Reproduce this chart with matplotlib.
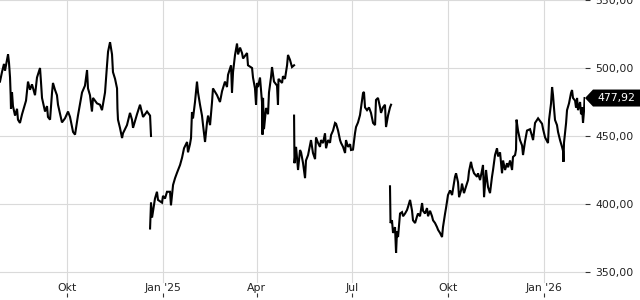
import matplotlib
matplotlib.use("Agg")
import matplotlib.pyplot as plt
from matplotlib.patches import Polygon
import numpy as np
import pandas as pd

# ---------------- data (days since BASE, price) ----------------
BASE = pd.Timestamp("2024-07-29 04:00")
X_END_DAYS = 559.8

seg1_days = [0, 1.9, 3.8, 4.8, 6.7, 7.7, 8.6, 9.6, 10.2, 10.5,
             11.5, 12.4, 14.4, 16.3, 17.2, 19.1, 21.1, 23.0, 24.9, 26.8,
             28.7, 30.6, 33.5, 35.4, 38.3, 39.2, 40.2, 43.1, 45.0, 45.9,
             47.9, 49.8, 50.7, 52.6, 54.5, 55.5, 59.3, 62.2, 65.1, 67.0,
             69.9, 71.8, 74.6, 78.5, 81.3, 83.3, 84.2, 86.1, 88.0, 89.0,
             92.8, 95.7, 97.6, 100.5, 102.4, 103.4, 105.3, 107.2, 108.1, 110.1,
             112.0, 112.4, 112.9, 114.8, 116.8, 117.7, 121.5, 124.4, 126.3, 127.3,
             131.1, 134.0, 136.9, 140.7, 143.6, 144.5]
seg1_vals = [490, 497, 503, 498, 506, 510, 504, 493, 480, 470,
             482, 472, 465, 470, 462, 459.6, 466, 471, 476, 490,
             484, 488, 480, 493, 500, 490, 478, 468, 472, 464,
             462, 482, 489, 484, 480, 473, 460, 463, 468, 464,
             453, 451, 465, 482, 487, 498.5, 485, 480, 468, 478,
             474, 473, 469, 482, 502, 512, 519, 510, 497, 492,
             485, 470, 462, 456, 448.5, 452, 458, 467, 462, 456,
             466, 473, 464, 468, 465, 450]

seg2_days = [143.6, 144.5, 145.5, 148.3, 150.2, 151.2, 155.0, 156.0, 157.9, 159.8,
             162.7, 163.6, 165.6, 167.5, 169.4, 172.3, 174.2, 176.1, 179.0, 179.9,
             181.8, 182.8, 183.7, 184.7, 186.6, 188.5, 189.5, 191.4, 193.3, 194.3,
             196.2, 198.1, 199.1, 201.0, 202.9, 203.8, 207.7, 210.5, 212.5, 215.3,
             217.2, 218.2, 221.1, 222.0, 223.0, 224.9, 226.8, 227.8, 229.7, 231.6,
             232.6, 236.4, 237.3, 241.2, 242.1, 244.0, 245.0, 245.9, 246.9, 248.8,
             250.7, 251.2, 251.7, 252.6, 254.6, 256.5, 257.4, 259.3, 260.3, 262.2,
             265.1, 266.0, 266.5, 269.9, 270.8, 272.7, 274.7, 275.6, 277.5, 279.4,
             281.4]
seg2_vals = [382, 401, 390, 404, 409, 403, 401, 406, 404, 409,
             409, 399, 414, 419, 423, 428.7, 434, 441, 445.6, 438,
             444, 448.5, 467.6, 463, 475, 490, 482, 473, 465, 458,
             445.6, 460, 465, 458, 475, 485, 480, 475, 483, 490,
             486, 495, 502, 482, 497, 509.6, 518, 510, 515, 511,
             507, 511, 502, 500, 493, 485, 473, 489, 486, 493,
             475, 451, 478, 455, 470.6, 466, 482, 493, 500.7, 490,
             487, 473, 492, 489, 494, 492, 502, 509.6, 506, 500.7,
             502]

seg3_days = [281.4, 281.8, 283.3, 285.2, 287.1, 288.1, 290.0, 291.9, 292.8, 294.8,
             297.6, 299.5, 301.5, 302.4, 304.3, 306.2, 307.2, 309.1, 311.0, 312.0,
             313.9, 315.8, 316.8, 318.7, 320.6, 321.6, 323.5, 325.4, 326.3, 328.3,
             330.2, 331.1, 333.0, 335.0, 335.9, 337.8, 339.7, 340.7, 342.6, 344.5,
             345.5, 347.4, 348.3, 349.3, 351.2, 353.1, 355.0, 357.0, 358.9, 359.8,
             361.7, 363.7, 364.6, 366.5, 368.4, 369.4, 371.3, 373.2, 374.2]
seg3_vals = [465, 430, 442, 425, 439.7, 438, 430, 419, 432, 436,
             447, 437.5, 433, 449, 445, 442, 447, 444.8, 452, 441,
             447, 445, 450.7, 454, 459.6, 459, 454, 447, 445, 442,
             437.5, 447, 442, 444, 439.7, 440, 452, 456.6, 460, 465.4,
             471, 481.6, 482.4, 471, 469, 471, 467, 459.6, 458, 476.5,
             478, 471, 467, 471, 473, 456.6, 465, 471, 473]

seg4_days = [373.2, 373.7, 375.1, 376.1, 378.0, 379.0, 379.9, 380.9, 382.8, 384.7,
             385.7, 387.6, 389.5, 390.5, 392.4, 394.3, 395.2, 397.2, 399.1, 400.0,
             401.9, 403.9, 404.8, 406.7, 408.6, 409.6, 411.5, 413.4, 414.4, 416.3,
             418.2, 419.2, 421.1, 423.0, 423.9, 425.9, 426.8, 428.7, 430.7, 432.6,
             433.5, 435.4, 436.4, 438.3, 439.3, 441.2, 442.1, 444.0, 446.0, 447.9,
             448.8, 450.7, 451.7, 453.6, 456.5, 457.4, 459.4, 461.3, 462.2, 463.2,
             465.1, 466.1, 467.0, 468.9, 470.8, 471.8, 473.7, 475.6, 476.6, 478.5,
             480.4, 481.4, 483.3, 485.2, 486.2, 488.1, 490.0, 490.9, 492.9, 493.8,
             494.3, 494.8, 495.7, 497.6, 499.6, 500.5, 502.4, 504.3, 507.2, 509.1,
             510.1, 512.0, 514.9, 516.8, 518.7, 519.7, 521.6, 524.4, 525.4, 527.3,
             528.3, 529.2, 530.2, 531.1, 533.0, 534.0, 535.9, 537.8, 538.8, 539.2,
             539.7, 541.7, 542.6, 544.5, 546.4, 547.4, 548.3, 550.3, 551.2, 552.2,
             553.1, 555.1, 556.0, 557.0, 557.9, 558.9, 559.4]
seg4_vals = [413, 386, 388, 378.7, 383, 364, 380, 375.7, 393, 394,
             391, 393, 395.6, 398, 403, 395, 388, 386, 391, 393,
             391, 400.7, 395, 393, 397, 391, 395, 391, 388, 386,
             383, 381, 378.7, 375.7, 383, 393, 397, 406.6, 410, 406.6,
             411, 420, 422.6, 416, 405, 410, 415, 408, 413, 417.6,
             424, 431, 427, 422.6, 420, 422.6, 417.6, 425, 428.7, 405,
             425, 418, 412.5, 408, 420, 425, 436, 441, 435, 438,
             422.6, 432, 425, 430, 427, 432, 425, 434.6, 436, 440,
             462, 459, 454, 447, 443, 436, 446, 454, 455, 450,
             447, 459.6, 463, 461, 459, 455, 449, 444.8, 461.8, 474,
             486, 480, 470, 461.8, 458, 453, 447, 442, 439, 431,
             445, 459.6, 469, 474, 481.6, 483.8, 478, 476, 471, 478,
             469, 475, 466, 471, 459.6, 469, 477.92]

last_value = 477.92
y_ticks = [350, 400, 450, 500, 550]
x_tick_dates = ["2024-10-01", "2025-01-01", "2025-04-01",
                "2025-07-01", "2025-10-01", "2026-01-01"]
x_tick_labels = ["Okt", "Jan '25", "Apr", "Jul", "Okt", "Jan '26"]

segments = [(seg1_days, seg1_vals), (seg2_days, seg2_vals),
            (seg3_days, seg3_vals), (seg4_days, seg4_vals)]

# ---------------- figure ----------------
W, H, DPI = 640, 300, 100
fig = plt.figure(figsize=(W / DPI, H / DPI), dpi=DPI)
ax = fig.add_axes([0, 3 / H, 585 / W, 297 / H])

GRID = "#dadada"
TXT = "#222222"
FS = 7.8

for days, vals in segments:
    n = min(len(days), len(vals))
    x = BASE + pd.to_timedelta(np.asarray(days[:n], dtype=float), unit="D")
    ax.plot(x, vals[:n], color="black", lw=1.5, zorder=3,
            solid_joinstyle="miter")

ax.set_xlim(BASE, BASE + pd.Timedelta(days=X_END_DAYS))
ax.set_ylim(331.62, 550)

for s in ax.spines.values():
    s.set_visible(False)

# y axis on the right
ax.yaxis.tick_right()
ax.set_yticks(y_ticks)
ax.set_yticklabels([f"{v:.2f}".replace(".", ",") for v in y_ticks])
ax.tick_params(axis="y", direction="out", length=3.6, width=0.8,
               color="#333333", pad=3.8, labelsize=FS, labelcolor=TXT)
ax.grid(axis="y", color=GRID, lw=0.8, zorder=0)

# x axis: labels inside, small ticks at bottom
tick_dt = pd.to_datetime(x_tick_dates)
ax.set_xticks(tick_dt)
ax.set_xticklabels(x_tick_labels)
ax.tick_params(axis="x", direction="in", length=2.9, width=0.8,
               color="#333333", pad=-10.3, labelsize=FS, labelcolor=TXT)
for d in tick_dt:
    ax.axvline(d, ymin=15 / 297, ymax=1, color=GRID, lw=0.8, zorder=0)
ax.set_axisbelow(True)

# last value marker
yc = ax.transData.transform((0, last_value))[1]
x_tip = ax.get_position().x1 * W
pts = [(x_tip, yc), (x_tip + 8, yc + 8.5), (W + 2, yc + 8.5),
       (W + 2, yc - 8.5), (x_tip + 8, yc - 8.5)]
pts_fig = [(px / W, py / H) for px, py in pts]
fig.add_artist(Polygon(pts_fig, closed=True, transform=fig.transFigure,
                       facecolor="black", edgecolor="none", zorder=5))
fig.text((x_tip + 12) / W, yc / H, f"{last_value:.2f}".replace(".", ","),
         color="white", fontsize=FS, ha="left", va="center", zorder=6)

fig.savefig("out.png", dpi=DPI)
